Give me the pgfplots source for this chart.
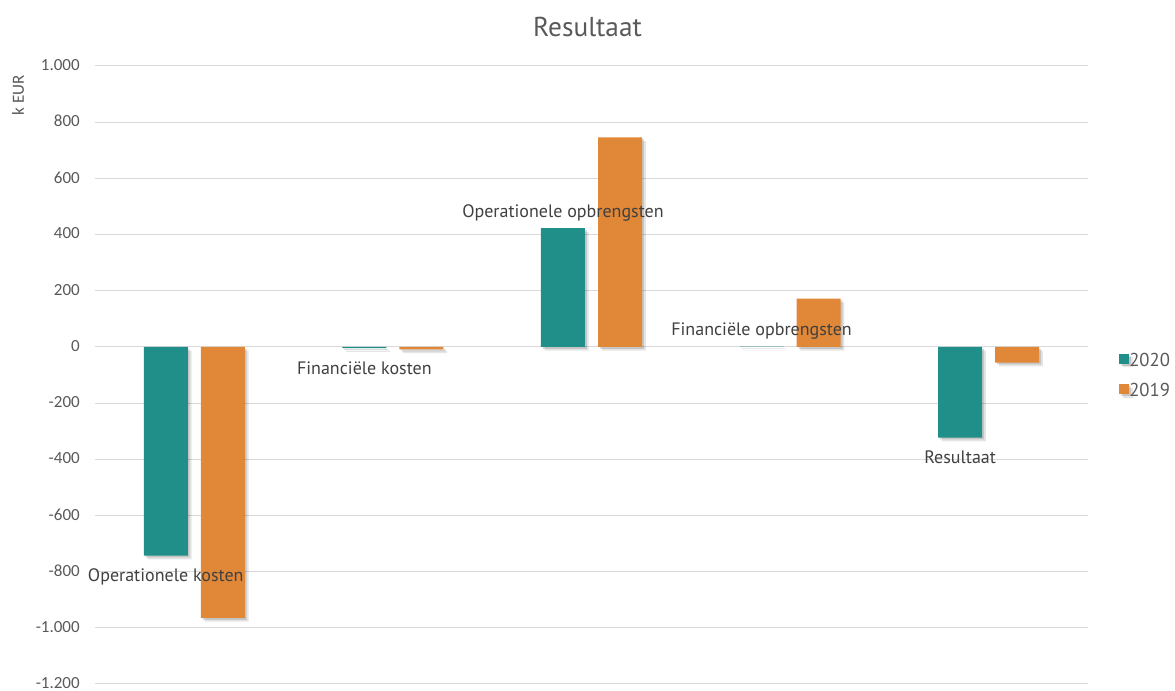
\documentclass[border=0pt]{standalone}
\usepackage{pgfplots}
\pgfplotsset{compat=1.18}
\usepackage{fontspec}
\setmainfont{PT Sans}
\newfontfamily\tickfont{Carlito}
\usetikzlibrary{shadows}

\definecolor{teal2020}{RGB}{32,143,137}
\definecolor{orange2019}{RGB}{224,136,56}
\definecolor{gridgray}{RGB}{217,217,217}
\definecolor{tickgray}{RGB}{89,89,89}
\definecolor{labelgray}{RGB}{64,64,64}

% soft two-step shadow under each bar
\tikzset{barshadow/.style={
  drop shadow={shadow xshift=1.4pt, shadow yshift=-1.4pt, fill=black, opacity=0.14},
  drop shadow={shadow xshift=2.8pt, shadow yshift=-2.8pt, fill=black, opacity=0.10}}}
% category names written at the outer end of the 2020 bars
\tikzset{catlabel/.style={font=\fontsize{13.5pt}{16pt}\selectfont, text=labelgray,
    inner xsep=0pt, inner ysep=9.5pt, text height=9.8pt, text depth=0pt}}

\begin{document}
\begin{tikzpicture}
\path[use as bounding box] (0,0) rectangle (881.25pt,518.25pt);
\begin{axis}[
  at={(71.25pt,5.25pt)}, anchor=south west,
  scale only axis, width=744.75pt, height=463.5pt,
  xmin=-0.5, xmax=4.5, ymin=-1200, ymax=1000,
  ybar=9.75pt, bar width=33pt,
  xtick=\empty,
  ytick={-1200,-1000,...,1000},
  yticklabels={-1.200,-1.000,-800,-600,-400,-200,0,200,400,600,800,1.000},
  yticklabel style={font=\tickfont\fontsize{12.75pt}{14pt}\selectfont, text=tickgray,
    anchor=east, inner sep=0pt, xshift=-11.25pt, yshift=0.75pt},
  ymajorgrids, major grid style={draw=gridgray, line width=0.75pt},
  axis line style={draw=none}, tick style={draw=none},
  title={Resultaat},
  title style={font=\fontsize{20.5pt}{24pt}\selectfont, text=tickgray,
    anchor=center, at={(0.5,1)}, yshift=23.25pt, xshift=-3pt},
  ylabel={k EUR},
  ylabel style={font=\tickfont\fontsize{12.75pt}{14pt}\selectfont, text=tickgray,
    at={(0,0.953)}, anchor=center, yshift=57.75pt},
  reverse legend,
  legend style={at={(1,0.5)}, anchor=west, xshift=23.25pt, draw=none, fill=none,
    inner sep=0pt, font=\fontsize{14pt}{16pt}\selectfont, text=tickgray,
    row sep=13pt, legend cell align=left,
    nodes={inner sep=0pt, text height=10pt, text depth=0pt},
    /tikz/every even column/.append style={column sep=4.5pt}},
]
\addplot[fill=orange2019, draw=none, bar shift=21.4pt, barshadow,
  legend image code/.code={\fill[orange2019] (0pt,-3pt) rectangle (7.5pt,4.5pt);}]
  coordinates {(0,-965) (1,-9) (2,746) (3,172) (4,-56)};
\addlegendentry{2019}
% 2020, negative values: names below the bar ends
\addplot[forget plot, fill=teal2020, draw=none, bar shift=-21.4pt, barshadow,
  point meta=explicit symbolic, nodes near coords,
  nodes near coords style={catlabel, anchor=north}]
  coordinates {(0,-743) [Operationele kosten] (1,-4) [Financiële kosten]
    (4,-323) [Resultaat]};
% 2020, positive values: names above the bar ends
\addplot[fill=teal2020, draw=none, bar shift=-21.4pt, barshadow,
  legend image code/.code={\fill[teal2020] (0pt,-3pt) rectangle (7.5pt,4.5pt);},
  point meta=explicit symbolic, nodes near coords,
  nodes near coords style={catlabel, anchor=south, yshift=-1.5pt}]
  coordinates {(2,423) [Operationele opbrengsten] (3,1) [Financiële opbrengsten]};
\addlegendentry{2020}
\end{axis}
\end{tikzpicture}
\end{document}
